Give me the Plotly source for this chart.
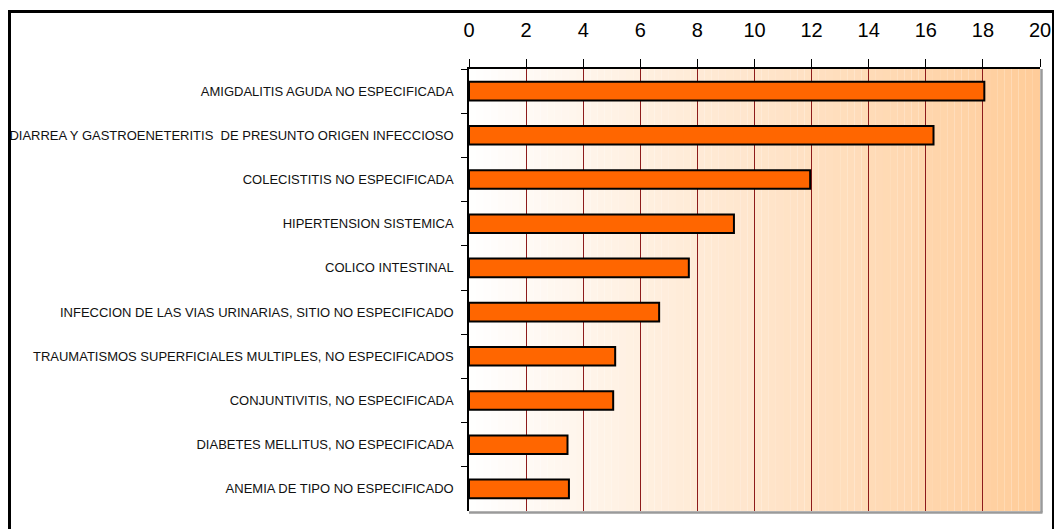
import plotly.graph_objects as go

# Diagnosis categories (top to bottom) and their values
categories = [
    "AMIGDALITIS AGUDA NO ESPECIFICADA",
    "DIARREA Y GASTROENETERITIS  DE PRESUNTO ORIGEN INFECCIOSO",
    "COLECISTITIS NO ESPECIFICADA",
    "HIPERTENSION SISTEMICA",
    "COLICO INTESTINAL",
    "INFECCION DE LAS VIAS URINARIAS, SITIO NO ESPECIFICADO",
    "TRAUMATISMOS SUPERFICIALES MULTIPLES, NO ESPECIFICADOS",
    "CONJUNTIVITIS, NO ESPECIFICADA",
    "DIABETES MELLITUS, NO ESPECIFICADA",
    "ANEMIA DE TIPO NO ESPECIFICADO",
]
values = [18.05, 16.27, 11.95, 9.28, 7.7, 6.66, 5.12, 5.05, 3.45, 3.5]
x_ticks = [0, 2, 4, 6, 8, 10, 12, 14, 16, 18, 20]

X_MAX = 20
W, H = 1055, 529
L, R, T, B = 469, 15, 69, 18
PW, PH = W - L - R, H - T - B


def px_to_paper_x(px):
    return (px - L) / PW


def px_to_paper_y(py):
    return (H - B - py) / PH


fig = go.Figure()
fig.add_trace(go.Bar(
    x=values,
    y=categories,
    orientation="h",
    width=0.42,
    marker=dict(color="#FF6600", line=dict(color="#000000", width=2)),
    hoverinfo="x+y",
))

# Horizontal white-to-peach gradient behind the plot area
shapes = []
n_strips = 80
c0 = (255, 255, 255)
c1 = (255, 204, 153)
for i in range(n_strips):
    t = (i + 0.5) / n_strips
    col = tuple(round(a + (b - a) * t) for a, b in zip(c0, c1))
    shapes.append(dict(
        type="rect", xref="x", yref="y domain",
        x0=X_MAX * i / n_strips, x1=X_MAX * (i + 1) / n_strips,
        y0=0, y1=1, layer="below",
        fillcolor="rgb(%d,%d,%d)" % col, line=dict(width=0),
    ))

# Right and bottom edges of the plot area (grey shadow lines)
shapes.append(dict(type="line", xref="paper", yref="paper",
                   x0=px_to_paper_x(L + PW + 1.5), x1=px_to_paper_x(L + PW + 1.5),
                   y0=px_to_paper_y(H - B + 1.5), y1=1,
                   line=dict(color="#9a9a9a", width=2.5), layer="above"))
shapes.append(dict(type="line", xref="paper", yref="paper",
                   x0=0, x1=px_to_paper_x(L + PW + 2.5),
                   y0=px_to_paper_y(H - B + 1.5), y1=px_to_paper_y(H - B + 1.5),
                   line=dict(color="#9a9a9a", width=2.5), layer="above"))

# Outer chart border (left, top, right)
border = dict(color="#000000", width=3)
shapes.append(dict(type="line", xref="paper", yref="paper",
                   x0=px_to_paper_x(9.5), x1=px_to_paper_x(9.5),
                   y0=px_to_paper_y(545), y1=px_to_paper_y(11.5),
                   line=border, layer="above"))
shapes.append(dict(type="line", xref="paper", yref="paper",
                   x0=px_to_paper_x(8), x1=px_to_paper_x(1054),
                   y0=px_to_paper_y(11.5), y1=px_to_paper_y(11.5),
                   line=border, layer="above"))
shapes.append(dict(type="line", xref="paper", yref="paper",
                   x0=px_to_paper_x(1053), x1=px_to_paper_x(1053),
                   y0=px_to_paper_y(545), y1=px_to_paper_y(10),
                   line=dict(color="#000000", width=2), layer="above"))

fig.update_layout(
    width=W,
    height=H,
    autosize=False,
    margin=dict(l=L, r=R, t=T, b=B, pad=0, autoexpand=False),
    paper_bgcolor="#FFFFFF",
    plot_bgcolor="rgba(0,0,0,0)",
    font=dict(family="Liberation Sans, Arial, sans-serif", color="#000000"),
    showlegend=False,
    shapes=shapes,
    xaxis=dict(
        side="top",
        range=[0, X_MAX],
        tickvals=x_ticks,
        ticktext=[str(v) for v in x_ticks],
        tickfont=dict(size=20, color="#000000"),
        ticks="outside",
        ticklen=8,
        tickcolor="#000000",
        ticklabelstandoff=14,
        showline=True,
        linecolor="#000000",
        linewidth=1.5,
        showgrid=True,
        gridcolor="#8E1B1B",
        gridwidth=1,
        zeroline=False,
        fixedrange=True,
        automargin=False,
    ),
    yaxis=dict(
        categoryorder="array",
        categoryarray=categories,
        autorange="reversed",
        tickfont=dict(size=13, color="#111111"),
        ticks="outside",
        tickson="boundaries",
        ticklen=6,
        tickcolor="#000000",
        ticklabelstandoff=11,
        showline=True,
        linecolor="#000000",
        linewidth=1.5,
        showgrid=False,
        zeroline=False,
        fixedrange=True,
        automargin=False,
    ),
)

fig.write_html("out.html", config={"responsive": False})
